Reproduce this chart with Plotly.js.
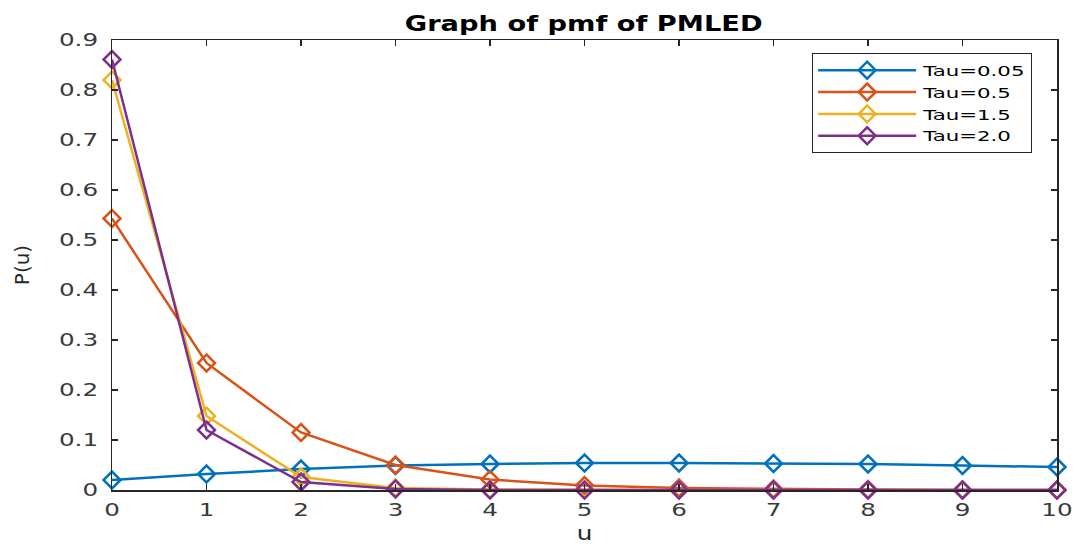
<!DOCTYPE html>
<html>
<head>
<meta charset="utf-8">
<script src="https://cdn.plot.ly/plotly-3.0.1.min.js"></script>
<style>
html,body{margin:0;padding:0;background:#fff;}
#chart{width:1073px;height:544px;}
/* used only so the legend box is measured wide enough for the widened legend text */
text.legendtext{letter-spacing:4px;}
</style>
</head>
<body>
<div id="chart"></div>
<script>
const u = [0, 1, 2, 3, 4, 5, 6, 7, 8, 9, 10];
const tau005 = [0.020, 0.032, 0.042, 0.049, 0.052, 0.054, 0.054, 0.053, 0.052, 0.049, 0.046];
const tau05  = [0.543, 0.254, 0.115, 0.050, 0.021, 0.009, 0.004, 0.002, 0.001, 0.000, 0.000];
const tau15  = [0.820, 0.148, 0.026, 0.004, 0.001, 0.000, 0.000, 0.000, 0.000, 0.000, 0.000];
const tau20  = [0.861, 0.120, 0.016, 0.002, 0.000, 0.000, 0.000, 0.000, 0.000, 0.000, 0.000];
const yTicks = [0, 0.1, 0.2, 0.3, 0.4, 0.5, 0.6, 0.7, 0.8, 0.9];
const yTickText = ['0', '0.1', '0.2', '0.3', '0.4', '0.5', '0.6', '0.7', '0.8', '0.9'];
const seriesNames = ['Tau=0.05', 'Tau=0.5', 'Tau=1.5', 'Tau=2.0'];
const seriesData = [tau005, tau05, tau15, tau20];
const colors = ['#0072BD', '#D95319', '#EDB120', '#7E2F8E'];

const traces = seriesData.map((ys, i) => ({
  x: u, y: ys, name: seriesNames[i], type: 'scatter', mode: 'lines+markers',
  line: {color: colors[i], width: 2.5},
  marker: {symbol: 'diamond-open', size: 13, color: colors[i], line: {width: 2.5, color: colors[i]}},
  cliponaxis: false
}));

const fontFam = 'DejaVu Sans, Liberation Sans, Arial, sans-serif';
const layout = {
  width: 1073, height: 544,
  margin: {l: 112, r: 16, t: 40, b: 54},
  paper_bgcolor: '#fff', plot_bgcolor: '#fff',
  font: {family: fontFam, color: '#262626', size: 17},
  title: {text: '<b>Graph of pmf of PMLED</b>', x: 0.544, xanchor: 'center', y: 0.957, yanchor: 'middle', font: {size: 22, color: '#000', family: fontFam}},
  xaxis: {
    range: [0, 10], tickvals: u, ticktext: u.map(String),
    showline: true, linecolor: '#262626', linewidth: 1.5, mirror: 'ticks',
    ticks: 'inside', ticklen: 6, tickcolor: '#262626', tickwidth: 1.2,
    showgrid: false, zeroline: false, ticklabelstandoff: 4,
    tickfont: {size: 17, color: '#3a3a3a'},
    title: {text: 'u', font: {size: 19, color: '#262626'}, standoff: 19}
  },
  yaxis: {
    range: [0, 0.9], tickvals: yTicks, ticktext: yTickText,
    showline: true, linecolor: '#262626', linewidth: 1.5, mirror: 'ticks',
    ticks: 'inside', ticklen: 6, tickcolor: '#262626', tickwidth: 1.2,
    showgrid: false, zeroline: false, ticklabelstandoff: 9,
    tickfont: {size: 17, color: '#3a3a3a'},
    title: {text: 'P(u)', font: {size: 20, color: '#262626'}, standoff: 36}
  },
  legend: {
    x: 0.9735, y: 0.971, xanchor: 'right', yanchor: 'top',
    bgcolor: '#fff', bordercolor: '#262626', borderwidth: 1.2,
    font: {size: 14.5, color: '#000', family: fontFam},
    itemwidth: 100, tracegroupgap: 0
  },
  showlegend: true
};

function stretchText(el, s) {
  const x = parseFloat(el.getAttribute('x')) || 0;
  const t = el.getAttribute('transform') || '';
  el.setAttribute('transform', (t + ' translate(' + x + ',0) scale(' + s + ',1) translate(' + (-x) + ',0)').trim());
}

Plotly.newPlot('chart', traces, layout, {displayModeBar: false, staticPlot: true}).then(gd => {
  // widen the text horizontally like the (horizontally stretched) original figure
  gd.querySelectorAll('.xtick text, .ytick text').forEach(el => stretchText(el, 1.45));
  gd.querySelectorAll('.gtitle').forEach(el => stretchText(el, 1.24));
  gd.querySelectorAll('.xtitle').forEach(el => stretchText(el, 1.3));
  gd.querySelectorAll('.legend text.legendtext').forEach(el => {
    el.style.letterSpacing = '0px';
    stretchText(el, 1.47);
  });
  // longer legend sample lines, marker centred on them
  gd.querySelectorAll('.legend .legendlines path').forEach(p => p.setAttribute('d', 'M5,0h98'));
  gd.querySelectorAll('.legend .legendpoints path').forEach(p => p.setAttribute('transform', 'translate(54,0)'));
});
</script>
</body>
</html>
